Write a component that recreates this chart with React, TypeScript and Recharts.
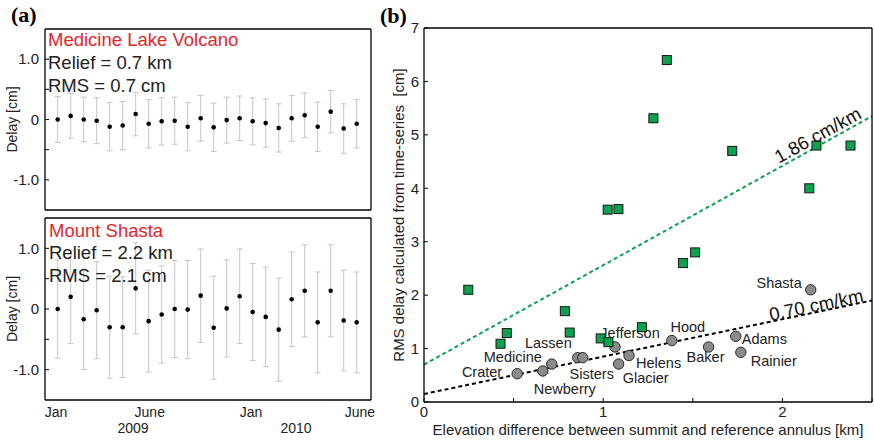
import {
  ErrorBar,
  ReferenceDot,
  ReferenceLine,
  Scatter,
  ScatterChart,
  XAxis,
  YAxis,
} from 'recharts'

// acquisition dates, days after 1 Jan 2009
const days = [
  0, 24, 48, 72, 96, 120, 144, 168, 192, 216, 240, 264, 288, 312, 336, 360,
  384, 408, 432, 456, 480, 504, 528, 552,
]

// Medicine Lake Volcano delay time-series [cm] and 1-sigma errors
const medicineDelay = [
  0.0, 0.06, 0.0, -0.02, -0.12, -0.1, 0.09, -0.07, -0.03, -0.02, -0.12, 0.02,
  -0.13, -0.01, 0.02, -0.03, -0.06, -0.14, 0.02, 0.07, -0.12, 0.13, -0.15,
  -0.07,
]
const medicineErr = [
  0.38, 0.37, 0.37, 0.38, 0.4, 0.4, 0.36, 0.4, 0.39, 0.39, 0.4, 0.38, 0.4, 0.38,
  0.37, 0.39, 0.4, 0.4, 0.38, 0.37, 0.41, 0.35, 0.41, 0.4,
]

// Mount Shasta delay time-series [cm] and 1-sigma errors
const shastaDelay = [
  0.0, 0.2, -0.17, -0.02, -0.3, -0.3, 0.34, -0.2, -0.09, 0.0, -0.01, 0.22,
  -0.31, 0.01, 0.21, -0.05, -0.13, -0.34, 0.16, 0.3, -0.22, 0.3, -0.19, -0.22,
]
const shastaErr = [
  0.81, 0.77, 0.83, 0.8, 0.84, 0.83, 0.75, 0.84, 0.8, 0.8, 0.81, 0.77, 0.85,
  0.8, 0.78, 0.8, 0.82, 0.85, 0.78, 0.76, 0.83, 0.76, 0.83, 0.83,
]

const monthTicks = [-3, 170, 357, 558]
const monthLabels = ['Jan', 'June', 'Jan', 'June']
const yearTicks = [139, 440]
const yearLabels = ['2009', '2010']

// Cascade volcanoes: summit relief [km] vs RMS delay [cm]
const volcanoNames = [
  'Crater', 'Newberry', 'Medicine', 'Lassen', 'Sisters', 'Jefferson',
  'Glacier', 'Helens', 'Hood', 'Baker', 'Adams', 'Rainier', 'Shasta',
]
const volcanoRelief = [
  0.52, 0.663, 0.713, 0.858, 0.886, 1.066, 1.086, 1.144, 1.383, 1.588, 1.74,
  1.768, 2.158,
]
const volcanoRms = [
  0.53, 0.58, 0.71, 0.83, 0.83, 1.03, 0.71, 0.87, 1.15, 1.03, 1.23, 0.93, 2.1,
]

// other sites
const siteRelief = [
  0.247, 0.427, 0.462, 0.786, 0.813, 0.986, 1.025, 1.029, 1.085, 1.216, 1.28,
  1.355, 1.445, 1.513, 1.72, 2.15, 2.19, 2.38,
]
const siteRms = [
  2.1, 1.09, 1.29, 1.7, 1.3, 1.19, 3.6, 1.12, 3.61, 1.4, 5.31, 6.4, 2.6, 2.8,
  4.7, 4.0, 4.8, 4.8,
]

// linear fits: green = other sites, black = volcanoes
const fitSlopes = [1.86, 0.7]
const fitIntercepts = [0.7, 0.15]
const fitLabelX = [2.197, 2.188]
const fitLabelY = [5.0, 1.82]

const FONT = '"Liberation Sans", Arial, Helvetica, sans-serif'
const INK = '#222'
const GREEN = '#0ca24f'
const FRAME = { stroke: '#000', strokeWidth: 1.3 }
const TICK = { stroke: '#000', strokeWidth: 1 }

// name tag offsets from the marker: dx, dy, anchor
const tagPlacement: Record<string, [number, number, 'start' | 'middle' | 'end']> = {
  Crater: [-15, -2, 'end'],
  Newberry: [22, 18, 'middle'],
  Medicine: [-10, -7, 'end'],
  Lassen: [-6, -15, 'end'],
  Sisters: [9, 16, 'middle'],
  Jefferson: [15, -14, 'middle'],
  Glacier: [27, 14, 'middle'],
  Helens: [7, 7, 'start'],
  Hood: [16, -14, 'middle'],
  Baker: [-3, 10, 'middle'],
  Adams: [6, 3, 'start'],
  Rainier: [10, 9, 'start'],
  Shasta: [-9, -7, 'end'],
}

const X_MAX = 2.5
const Y_MAX = 7
const PLOT_W = 448
const PLOT_H = 374

function delayTick(v: number) {
  if (v === 0) return '0'
  if (Math.abs(v) === 1) return v.toFixed(1)
  return ''
}

function Dot(props: any) {
  return <circle cx={props.cx} cy={props.cy} r={2.3} fill='#000' />
}

function Nothing() {
  return <g />
}

function VolcanoMark(props: any) {
  const { cx, cy, payload } = props
  const [dx, dy, anchor] = tagPlacement[payload.name]
  return (
    <g>
      <circle cx={cx} cy={cy} r={5.2} fill='#8b8b8b' stroke='#2a2a2a' strokeWidth={1} />
      <text
        x={cx + dx}
        y={cy + dy}
        textAnchor={anchor}
        dominantBaseline='central'
        fontSize={14.5}
        fill={INK}
      >
        {payload.name}
      </text>
    </g>
  )
}

function SiteMark(props: any) {
  return (
    <rect
      x={props.cx - 4.5}
      y={props.cy - 4.5}
      width={9}
      height={9}
      fill={GREEN}
      stroke='#151515'
      strokeWidth={1}
    />
  )
}

function DelayPanel({
  delay,
  err,
  top,
  height,
  margin,
  dates,
}: {
  delay: number[]
  err: number[]
  top: number
  height: number
  margin: { top: number; right: number; bottom: number; left: number }
  dates: boolean
}) {
  const data = days.map((d, i) => ({ day: d, delay: delay[i], err: err[i] }))
  const xDomain = [-23.4, 578.4]
  return (
    <div style={{ position: 'absolute', left: 0, top }}>
      <ScatterChart width={380} height={height} margin={margin} style={{ fontFamily: FONT }}>
        <XAxis
          type='number'
          dataKey='day'
          domain={xDomain}
          allowDataOverflow
          ticks={monthTicks}
          interval={0}
          tickFormatter={(_: any, i: number) => monthLabels[i]}
          tick={dates ? { fill: INK, fontSize: 14 } : false}
          tickLine={false}
          tickSize={0}
          tickMargin={7}
          height={dates ? 18 : 1}
          axisLine={FRAME}
        />
        {dates && (
          <XAxis
            xAxisId='yr'
            type='number'
            dataKey='day'
            domain={xDomain}
            allowDataOverflow
            ticks={yearTicks}
            interval={0}
            tickFormatter={(_: any, i: number) => yearLabels[i]}
            tick={{ fill: INK, fontSize: 14 }}
            tickLine={false}
            axisLine={false}
            tickSize={0}
            tickMargin={5}
            height={22}
          />
        )}
        <XAxis
          xAxisId='top'
          orientation='top'
          type='number'
          domain={xDomain}
          allowDataOverflow
          tick={false}
          tickLine={false}
          height={1}
          axisLine={FRAME}
        />
        <YAxis
          type='number'
          dataKey='delay'
          domain={[-1.5, 1.5]}
          allowDataOverflow
          ticks={[-1, -0.5, 0, 0.5, 1]}
          interval={0}
          tickFormatter={delayTick}
          tick={{ fill: INK, fontSize: 15 }}
          tickSize={-4}
          tickMargin={10}
          tickLine={TICK}
          axisLine={FRAME}
          width={45}
          label={(p: any) => (
            <text
              x={p.viewBox.x + 12}
              y={p.viewBox.y + p.viewBox.height / 2}
              transform={`rotate(-90 ${p.viewBox.x + 12} ${p.viewBox.y + p.viewBox.height / 2})`}
              textAnchor='middle'
              dominantBaseline='central'
              fontSize={14}
              fill={INK}
            >
              Delay [cm]
            </text>
          )}
        />
        <YAxis
          yAxisId='r'
          orientation='right'
          type='number'
          domain={[-1.5, 1.5]}
          allowDataOverflow
          ticks={[-1, -0.5, 0, 0.5, 1]}
          interval={0}
          tick={false}
          tickSize={-4}
          tickLine={TICK}
          axisLine={FRAME}
          width={1}
        />
        <Scatter data={data} shape={Dot} isAnimationActive={false}>
          <ErrorBar dataKey='err' direction='y' width={3} stroke='#c6c6c6' strokeWidth={1} />
        </Scatter>
        {/* keeps the year axis tied to the series so its labels are laid out */}
        {dates && <Scatter data={data} xAxisId='yr' shape={Nothing} isAnimationActive={false} />}
      </ScatterChart>
    </div>
  )
}

function Note({ x, y, color, children }: { x: number; y: number; color?: string; children: any }) {
  return (
    <div
      style={{
        position: 'absolute',
        left: x,
        top: y - 11,
        fontSize: 18.5,
        lineHeight: '22px',
        color: color || INK,
        whiteSpace: 'nowrap',
        fontFamily: FONT,
      }}
    >
      {children}
    </div>
  )
}

function PanelTag({ x, y, children }: { x: number; y: number; children: any }) {
  return (
    <div
      style={{
        position: 'absolute',
        left: x,
        top: y,
        fontSize: 22,
        lineHeight: '24px',
        fontWeight: 'bold',
        fontFamily: '"Liberation Serif", "Times New Roman", serif',
        color: '#000',
      }}
    >
      {children}
    </div>
  )
}

function ReliefPanel() {
  const volcanoes = volcanoNames.map((name, i) => ({
    name,
    relief: volcanoRelief[i],
    rms: volcanoRms[i],
  }))
  const sites = siteRelief.map((r, i) => ({ relief: r, rms: siteRms[i] }))
  const fitColors = [GREEN, '#000']
  // rotate the fit labels to follow the dashed lines on screen
  const pxRatio = PLOT_H / Y_MAX / (PLOT_W / X_MAX)
  const xTicks = [0, 0.5, 1, 1.5, 2, 2.5]
  const yTicks = [0, 1, 2, 3, 4, 5, 6, 7]

  return (
    <div style={{ position: 'absolute', left: 380, top: 0 }}>
      <ScatterChart
        width={494}
        height={443}
        margin={{ top: 27, right: 1, bottom: 0, left: 0 }}
        style={{ fontFamily: FONT }}
      >
        <XAxis
          type='number'
          dataKey='relief'
          domain={[0, X_MAX]}
          allowDataOverflow
          ticks={xTicks}
          interval={0}
          tickFormatter={(v: number) => (Number.isInteger(v) && v < X_MAX ? String(v) : '')}
          tick={{ fill: INK, fontSize: 15 }}
          tickSize={-4}
          tickMargin={8}
          tickLine={TICK}
          axisLine={FRAME}
          height={41}
          label={{
            value: 'Elevation difference between summit and reference annulus [km]',
            position: 'insideBottom',
            offset: 8,
            fontSize: 15,
            fill: INK,
          }}
        />
        <XAxis
          xAxisId='top'
          orientation='top'
          type='number'
          domain={[0, X_MAX]}
          allowDataOverflow
          ticks={xTicks}
          interval={0}
          tick={false}
          tickSize={-4}
          tickLine={TICK}
          axisLine={FRAME}
          height={1}
        />
        <YAxis
          type='number'
          dataKey='rms'
          domain={[0, Y_MAX]}
          allowDataOverflow
          ticks={yTicks}
          interval={0}
          tick={{ fill: INK, fontSize: 15 }}
          tickSize={-4}
          tickMargin={9}
          tickLine={TICK}
          axisLine={FRAME}
          width={44}
          label={(p: any) => (
            <text
              x={p.viewBox.x + 18}
              y={p.viewBox.y + p.viewBox.height / 2}
              transform={`rotate(-90 ${p.viewBox.x + 18} ${p.viewBox.y + p.viewBox.height / 2})`}
              textAnchor='middle'
              dominantBaseline='central'
              fontSize={15}
              fill={INK}
              style={{ whiteSpace: 'pre' }}
            >
              RMS delay calculated from time-series  [cm]
            </text>
          )}
        />
        <YAxis
          yAxisId='r'
          orientation='right'
          type='number'
          domain={[0, Y_MAX]}
          allowDataOverflow
          ticks={yTicks}
          interval={0}
          tick={false}
          tickSize={-4}
          tickLine={TICK}
          axisLine={FRAME}
          width={1}
        />
        {fitSlopes.map((m, i) => (
          <ReferenceLine
            key={`fit-${i}`}
            segment={[
              { x: 0, y: fitIntercepts[i] },
              { x: X_MAX, y: fitIntercepts[i] + m * X_MAX },
            ]}
            stroke={fitColors[i]}
            strokeWidth={2}
            strokeDasharray='4 3'
          />
        ))}
        {fitSlopes.map((m, i) => (
          <ReferenceDot
            key={`fit-label-${i}`}
            x={fitLabelX[i]}
            y={fitLabelY[i]}
            r={0}
            fill='none'
            stroke='none'
            label={{
              value: `${m.toFixed(2)} cm/km`,
              position: 'center',
              angle: (-Math.atan(m * pxRatio) * 180) / Math.PI,
              fontSize: 18.5,
              fill: '#111',
            }}
          />
        ))}
        <Scatter data={volcanoes} shape={VolcanoMark} isAnimationActive={false} />
        <Scatter data={sites} shape={SiteMark} isAnimationActive={false} />
      </ScatterChart>
    </div>
  )
}

export default function App() {
  const medicine = volcanoNames.indexOf('Medicine')
  const shasta = volcanoNames.indexOf('Shasta')
  return (
    <div style={{ position: 'relative', width: 874, height: 443, background: '#fff', overflow: 'hidden' }}>
      <style>{'body { margin: 0; }'}</style>
      <DelayPanel
        delay={medicineDelay}
        err={medicineErr}
        top={0}
        height={212}
        margin={{ top: 28, right: 8, bottom: 1, left: 0 }}
        dates={false}
      />
      <DelayPanel
        delay={shastaDelay}
        err={shastaErr}
        top={212}
        height={231}
        margin={{ top: 5, right: 8, bottom: 3, left: 0 }}
        dates
      />
      <ReliefPanel />

      <Note x={48} y={40} color='#e3262a'>Medicine Lake Volcano</Note>
      <Note x={48} y={63}>Relief = {volcanoRelief[medicine].toFixed(1)} km</Note>
      <Note x={48} y={86}>RMS = {volcanoRms[medicine].toFixed(1)} cm</Note>

      <Note x={49} y={231} color='#e3262a'>Mount Shasta</Note>
      <Note x={49} y={253}>Relief = {volcanoRelief[shasta].toFixed(1)} km</Note>
      <Note x={49} y={276}>RMS = {volcanoRms[shasta].toFixed(1)} cm</Note>

      <PanelTag x={11} y={3}>(a)</PanelTag>
      <PanelTag x={380} y={4}>(b)</PanelTag>
    </div>
  )
}
